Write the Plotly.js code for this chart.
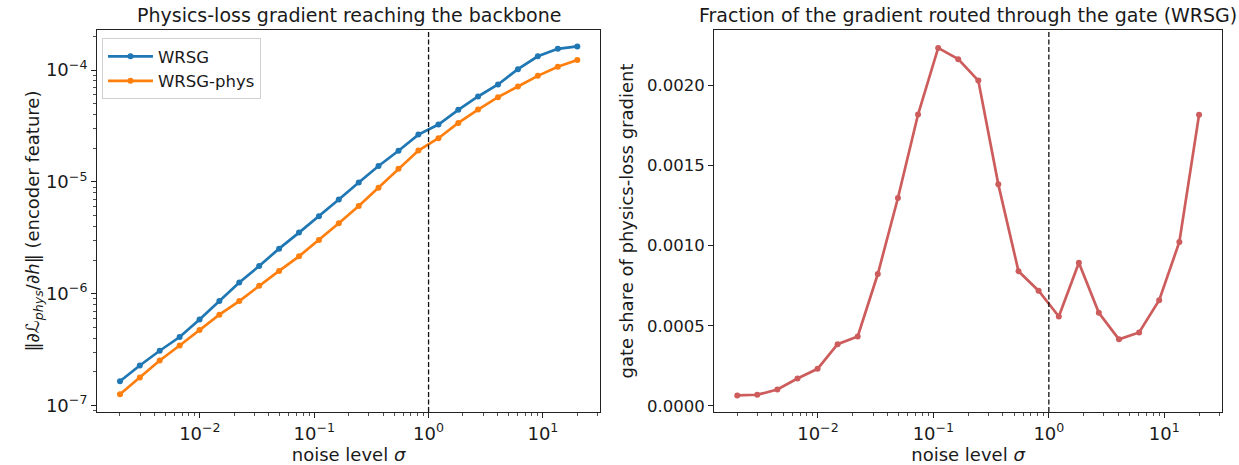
<!DOCTYPE html>
<html>
<head>
<meta charset="utf-8">
<script src="https://cdn.plot.ly/plotly-3.0.1.min.js"></script>
<style>html,body{margin:0;padding:0;background:#fff;}#chart{width:1239px;height:465px;}</style>
</head>
<body>
<div id="chart"></div>
<script>
// noise levels sigma
const sigma = [0.002, 0.00298, 0.00445, 0.00665, 0.00993, 0.0148, 0.0221, 0.033, 0.0493, 0.0736,
               0.11, 0.164, 0.245, 0.365, 0.546, 0.815, 1.22, 1.82, 2.71, 4.05, 6.05, 9.03, 13.5, 20];
// gradient norm reaching the backbone
const gradWRSG = [1.65e-7, 2.28e-7, 3.09e-7, 4.1e-7, 5.89e-7, 8.6e-7, 1.26e-6, 1.77e-6, 2.53e-6, 3.52e-6,
                  4.93e-6, 6.95e-6, 9.87e-6, 1.39e-5, 1.90e-5, 2.65e-5, 3.26e-5, 4.41e-5, 5.81e-5, 7.44e-5,
                  1.02e-4, 1.33e-4, 1.55e-4, 1.63e-4];
const gradPhys = [1.26e-7, 1.78e-7, 2.53e-7, 3.44e-7, 4.73e-7, 6.49e-7, 8.6e-7, 1.18e-6, 1.60e-6, 2.16e-6,
                  3.03e-6, 4.27e-6, 6.10e-6, 8.89e-6, 1.31e-5, 1.91e-5, 2.46e-5, 3.37e-5, 4.44e-5, 5.73e-5,
                  7.14e-5, 8.89e-5, 1.07e-4, 1.23e-4];
// gate share of physics-loss gradient (WRSG)
const gateShare = [0.0000650, 0.0000690, 0.000102, 0.000171, 0.000231, 0.000385, 0.000433, 0.000823, 0.001298, 0.001819,
                   0.002235, 0.002165, 0.002031, 0.001383, 0.000840, 0.000719, 0.000558, 0.000894, 0.000581, 0.000415,
                   0.000458, 0.000660, 0.001023, 0.001817];
const seriesNames = ["WRSG", "WRSG-phys"];
const xTickVals = [0.01, 0.1, 1, 10];
const xTickText = ["10<sup>−2</sup>", "10<sup>−1</sup>", "10<sup>0</sup>", "10<sup>1</sup>"];
const yTickVals = [1e-7, 1e-6, 1e-5, 1e-4];
const yTickText = ["10<sup>−7</sup>", "10<sup>−6</sup>", "10<sup>−5</sup>", "10<sup>−4</sup>"];
const gateTicks = [0, 0.0005, 0.001, 0.0015, 0.002];

function minorLog(lo, hi) {
  const out = [];
  for (let e = lo; e <= hi; e++) for (let m = 2; m <= 9; m++) out.push(m * Math.pow(10, e));
  return out;
}

const FONT = "DejaVu Sans, sans-serif";
const TXT = "#1a1a1a";
const lineStyle = (c) => ({color: c, width: 2.7});
const markerStyle = (c) => ({color: c, size: 6});

const traces = [
  {x: sigma, y: gradWRSG, name: seriesNames[0], mode: "lines+markers", line: lineStyle("#1f77b4"), marker: markerStyle("#1f77b4"), xaxis: "x", yaxis: "y"},
  {x: sigma, y: gradPhys, name: seriesNames[1], mode: "lines+markers", line: lineStyle("#ff7f0e"), marker: markerStyle("#ff7f0e"), xaxis: "x", yaxis: "y"},
  {x: sigma, y: gateShare, name: "gate", showlegend: false, mode: "lines+markers", line: lineStyle("#cd5c5c"), marker: markerStyle("#cd5c5c"), xaxis: "x2", yaxis: "y2"}
];

const axisBase = {
  showline: true, mirror: true, linecolor: "#222", linewidth: 1,
  ticks: "outside", ticklen: 5, tickwidth: 1, tickcolor: "#222",
  showgrid: false, zeroline: false,
  tickfont: {family: FONT, size: 16.5, color: TXT}
};
const logTickFont = {family: FONT, size: 18, color: TXT};
const minorCfg = (vals) => ({tickvals: vals, ticks: "outside", ticklen: 3, tickwidth: 0.8, tickcolor: "#222", showgrid: false});
const titleFont = {family: FONT, size: 18, color: TXT};
const headFont = {family: FONT, size: 19, color: TXT};

const layout = {
  width: 1239, height: 465,
  margin: {l: 0, r: 0, t: 0, b: 0},
  paper_bgcolor: "#fff", plot_bgcolor: "#fff",
  font: {family: FONT, size: 16.5, color: TXT},
  showlegend: true,
  legend: {x: 0.0823, y: 0.918, xanchor: "left", yanchor: "top", bgcolor: "rgba(255,255,255,0.8)",
           bordercolor: "#d0d0d0", borderwidth: 1, font: {family: FONT, size: 16.5, color: TXT},
           tracegroupgap: 2, itemwidth: 45},
  xaxis: Object.assign({}, axisBase, {
    type: "log", domain: [0.0783, 0.4843], range: [-2.9, 1.5], anchor: "y",
    tickvals: xTickVals, ticktext: xTickText, tickfont: logTickFont, minor: minorCfg(minorLog(-3, 1)),
    title: {text: "noise level <i>σ</i>", font: titleFont, standoff: 3}
  }),
  yaxis: Object.assign({}, axisBase, {
    type: "log", domain: [0.114, 0.9355], range: [-7.058, -3.641], anchor: "x",
    tickvals: yTickVals, ticktext: yTickText, tickfont: logTickFont, minor: minorCfg(minorLog(-8, -4)),
    title: {text: "‖∂<i>ℒ</i><sub><i>phys</i></sub>/∂<i>h</i>‖ (encoder feature)", font: titleFont, standoff: 1}
  }),
  xaxis2: Object.assign({}, axisBase, {
    type: "log", domain: [0.5763, 0.9863], range: [-2.9, 1.5], anchor: "y2",
    tickvals: xTickVals, ticktext: xTickText, tickfont: logTickFont, minor: minorCfg(minorLog(-3, 1)),
    title: {text: "noise level <i>σ</i>", font: titleFont, standoff: 3}
  }),
  yaxis2: Object.assign({}, axisBase, {
    domain: [0.114, 0.9355], range: [-0.0000385, 0.002347], anchor: "x2",
    tickvals: gateTicks, tickformat: ".4f",
    title: {text: "gate share of physics-loss gradient", font: titleFont, standoff: 8}
  }),
  shapes: [
    {type: "line", xref: "x", yref: "y domain", x0: 1, x1: 1, y0: 0, y1: 1, line: {color: "#111", width: 1.3, dash: "5px,2.5px"}},
    {type: "line", xref: "x2", yref: "y2 domain", x0: 1, x1: 1, y0: 0, y1: 1, line: {color: "#111", width: 1.3, dash: "5px,2.5px"}}
  ],
  annotations: [
    {text: "Physics-loss gradient reaching the backbone", xref: "paper", yref: "paper", x: 0.2813, y: 0.9355, yshift: 2,
     xanchor: "center", yanchor: "bottom", showarrow: false, font: headFont},
    {text: "Fraction of the gradient routed through the gate (WRSG)", xref: "paper", yref: "paper", x: 0.7813, y: 0.9355, yshift: 2,
     xanchor: "center", yanchor: "bottom", showarrow: false, font: headFont}
  ]
};

Plotly.newPlot("chart", traces, layout, {displayModeBar: false, staticPlot: true});
</script>
</body>
</html>
